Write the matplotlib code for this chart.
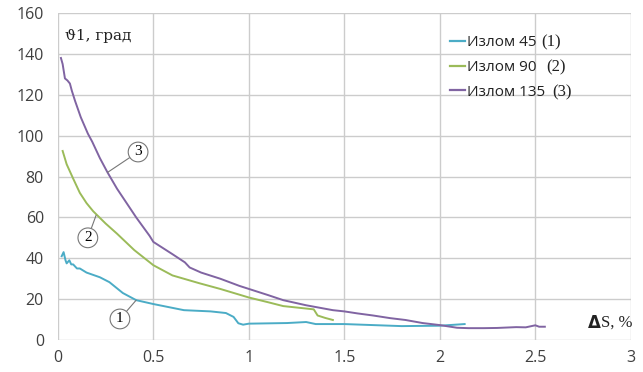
import matplotlib
matplotlib.use("Agg")
import matplotlib.pyplot as plt
from matplotlib.lines import Line2D

# Data
x1 = [0.02, 0.03, 0.04, 0.046, 0.06, 0.07, 0.08, 0.1, 0.115, 0.15, 0.22, 0.27, 0.34, 0.41, 0.5,
      0.66, 0.8, 0.88, 0.92, 0.945, 0.97, 1.0, 1.2, 1.3, 1.35, 1.5, 1.8, 2.0, 2.13]
y1 = [41, 43, 39, 37.5, 39, 37, 37, 35, 35, 33, 30.7, 28.3, 23, 19.5, 17.6,
      14.6, 14, 13.2, 11.3, 8.2, 7.5, 8, 8.3, 8.8, 7.8, 7.8, 6.8, 7, 7.8]

x2 = [0.025, 0.046, 0.08, 0.115, 0.15, 0.185, 0.25, 0.31, 0.4, 0.5, 0.6, 0.74, 0.85, 1.0,
      1.1, 1.18, 1.26, 1.34, 1.36, 1.4, 1.44]
y2 = [92.5, 86, 79, 72, 67, 63, 57, 52, 44, 36.6, 31.6, 27.8, 25, 20.8,
      18.5, 16.6, 15.8, 15, 12, 10.8, 9.8]

x3 = [0.016, 0.025, 0.037, 0.05, 0.063, 0.073, 0.09, 0.12, 0.157, 0.18, 0.22, 0.26, 0.31, 0.36, 0.41,
      0.48, 0.5, 0.55, 0.6, 0.665, 0.69, 0.75, 0.85, 0.95, 1.0, 1.1, 1.18, 1.3, 1.44, 1.5,
      1.57, 1.65, 1.74, 1.82, 1.91, 2.0, 2.09, 2.15, 2.23, 2.3, 2.4, 2.45, 2.5, 2.52, 2.55]
y3 = [138, 135, 128, 127, 125.5, 122, 117, 109, 101, 97, 89, 82, 74, 67, 60,
      51, 48, 45, 42, 38, 35.5, 33, 30, 26.5, 25, 22, 19.5, 17, 14.6, 14,
      13, 12, 10.7, 9.8, 8.3, 7.3, 6, 5.8, 5.8, 5.9, 6.3, 6.2, 7.2, 6.5, 6.5]

series_names = ["Излом 45", "Излом 90", "Излом 135"]
series_nums = ["(1)", "(2)", "(3)"]
colors = ["#4BACC6", "#9BBB59", "#8064A2"]

xticks = [0, 0.5, 1, 1.5, 2, 2.5, 3]
xtick_labels = ["0", "0.5", "1", "1.5", "2", "2.5", "3"]
yticks = [0, 20, 40, 60, 80, 100, 120, 140, 160]

fig = plt.figure(figsize=(6.43, 3.72), dpi=100)
ax = fig.add_axes([0.090, 0.086, 0.891, 0.879])

for xs, ys, c in [(x1, y1, colors[0]), (x2, y2, colors[1]), (x3, y3, colors[2])]:
    ax.plot(xs, ys, color=c, lw=1.4, zorder=3)

ax.set_xlim(0, 3)
ax.set_ylim(0, 160)
ax.set_xticks(xticks)
ax.set_xticklabels(xtick_labels)
ax.set_yticks(yticks)
ax.grid(True, color="#cccccc", lw=1.0, zorder=0)
for s in ax.spines.values():
    s.set_visible(False)
ax.tick_params(length=0, labelsize=11.5, colors="#404040")
ax.tick_params(axis="y", pad=10)
ax.tick_params(axis="x", pad=7)
for lab in ax.get_xticklabels() + ax.get_yticklabels():
    lab.set_fontfamily("Open Sans")

# Axis captions
ax.text(0.035, 149, "ϑ1, град", fontsize=11, family="DejaVu Serif", ha="left", va="center", color="#222222")
ax.text(2.775, 8.5, "Δ", fontsize=12, fontweight="bold", family="DejaVu Sans", ha="left", va="center", color="#222222")
ax.text(2.845, 8.5, "S, %", fontsize=12, family="Liberation Serif", ha="left", va="center", color="#222222")

# Legend
handles = [Line2D([0], [0], color=c, lw=1.6) for c in colors]
leg = ax.legend(handles, series_names, loc="upper left", bbox_to_anchor=(0.66, 0.975),
                frameon=False, handlelength=1.0, handletextpad=0.15, labelspacing=0.65,
                prop={"family": "Open Sans", "size": 11})
for t in leg.get_texts():
    t.set_color("#222222")
fig.canvas.draw()
renderer = fig.canvas.get_renderer()
inv = ax.transAxes.inverted()
gaps = [4, 9, 7]
for t, n, g in zip(leg.get_texts(), series_nums, gaps):
    bb = t.get_window_extent(renderer)
    px, cy = inv.transform((bb.x1 + g, (bb.y0 + bb.y1) / 2))
    ax.text(px, cy, n, transform=ax.transAxes, fontsize=12, family="Liberation Serif",
            ha="left", va="center", color="#222222")

# Circled annotations
circ = dict(boxstyle="circle,pad=0.22", fc="white", ec="#777777", lw=0.8)
arrow = dict(arrowstyle="-", color="#777777", lw=0.8, shrinkA=0, shrinkB=0)
ax.annotate("3", xy=(0.26, 82), xytext=(0.42, 92), fontsize=11, family="Liberation Serif",
            ha="center", va="center", bbox=circ, arrowprops=arrow, zorder=5)
ax.annotate("2", xy=(0.2, 61), xytext=(0.157, 50), fontsize=11, family="Liberation Serif",
            ha="center", va="center", bbox=circ, arrowprops=arrow, zorder=5)
ax.annotate("1", xy=(0.41, 19.5), xytext=(0.325, 10.3), fontsize=11, family="Liberation Serif",
            ha="center", va="center", bbox=circ, arrowprops=arrow, zorder=5)

fig.savefig("out.png", dpi=100)
